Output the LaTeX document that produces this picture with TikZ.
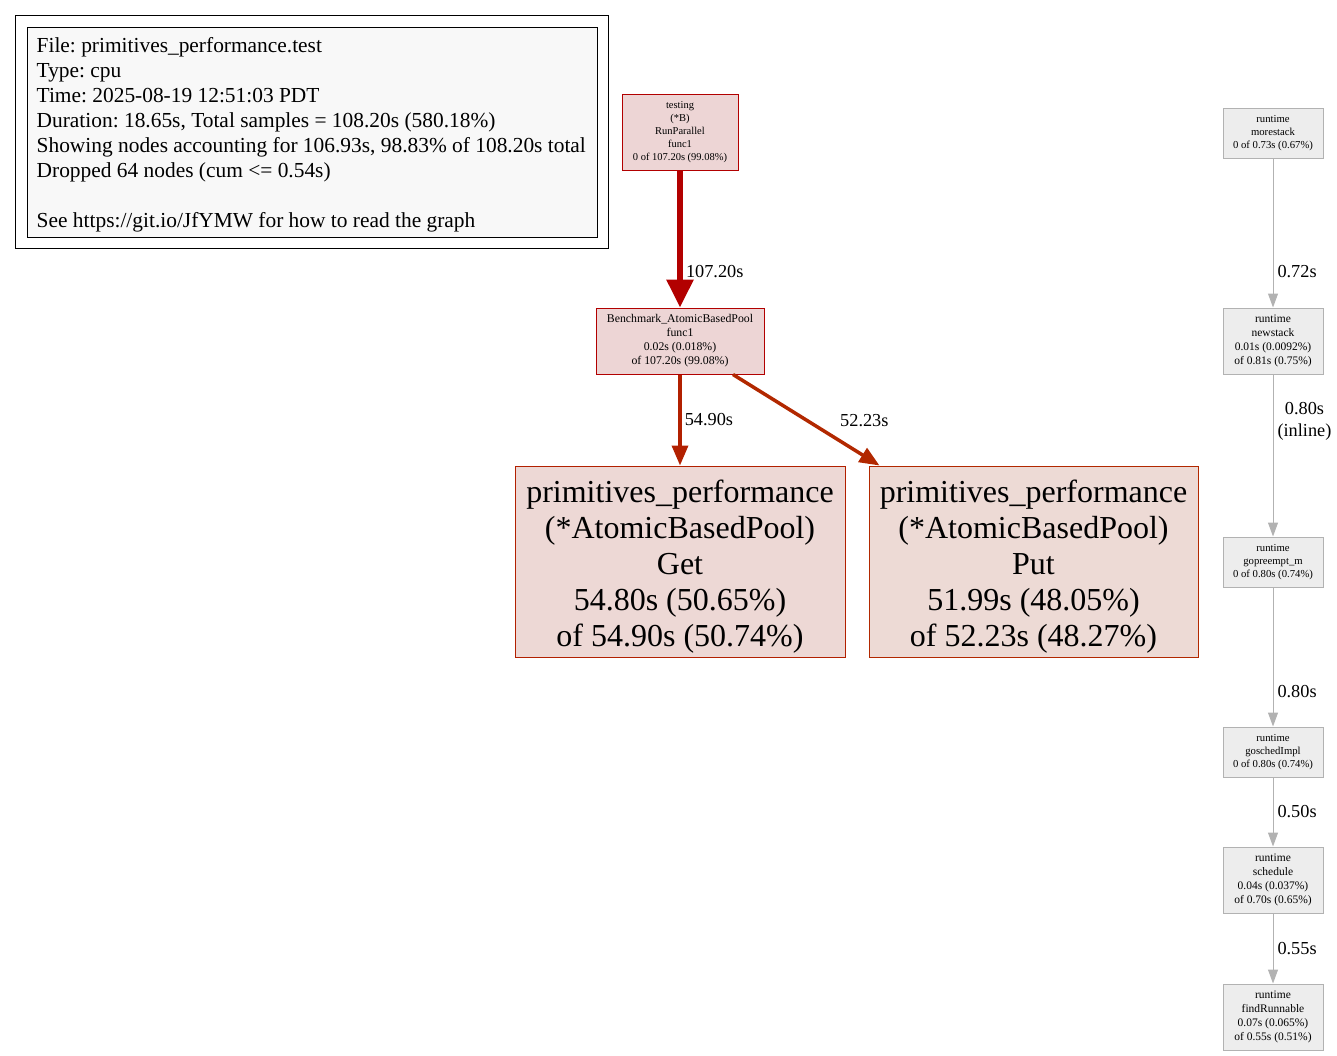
\documentclass[tikz,border=0pt]{standalone}
\usepackage{fontspec}
\setmainfont{Liberation Serif}
\usetikzlibrary{arrows.meta}
\definecolor{hotline}{HTML}{B20000}
\definecolor{hotfill}{HTML}{EDD5D5}
\definecolor{getline}{HTML}{B22000}
\definecolor{getfill}{HTML}{EDD8D5}
\definecolor{putline}{HTML}{B22800}
\definecolor{putfill}{HTML}{EDDAD5}
\definecolor{coldline}{HTML}{B2B2B2}
\definecolor{coldfill}{HTML}{EDEDED}
\definecolor{legendfill}{HTML}{F8F8F8}
\frenchspacing

\begin{document}
\begin{tikzpicture}[x=1pt,y=-1pt,
  fn/.style={draw,rectangle,align=center,inner sep=0pt,line width=1pt},
  small/.style={fn,font=\fontsize{10.5}{13}\selectfont},
  mid/.style={fn,font=\fontsize{11.5}{14}\selectfont},
  big/.style={fn,font=\fontsize{32}{36}\selectfont},
  cold/.style={draw=coldline,fill=coldfill,minimum width=100pt},
  lbl/.style={font=\fontsize{18.3}{22}\selectfont,anchor=west,inner sep=0pt},
  coldedge/.style={draw=coldline,line width=1pt,-{Triangle[length=14pt,width=10pt]}}]
\useasboundingbox (0,0) rectangle (1337,1055);

% legend
\node [draw,fill=legendfill,line width=1pt,minimum width=570pt,minimum height=210pt] (legend) at (312,132) {};
\node [anchor=north west,align=left,inner sep=0pt,font=\fontsize{21.4}{25}\selectfont\frenchspacing] (legendtext)
  at ([shift={(10pt,-11pt)}]legend.north west)
  {File: primitives\_performance.test\\
   Type: cpu\\
   Time: 2025-08-19 12:51:03 PDT\\
   Duration: 18.65s, Total samples = 108.20s (580.18\%)\\
   Showing nodes accounting for 106.93s, 98.83\% of 108.20s total\\
   Dropped 64 nodes (cum <= 0.54s)\\
   \mbox{}\\
   See https://git.io/JfYMW for how to read the graph};
\draw [line width=1pt] ([shift={(-11pt,11pt)}]legend.north west) rectangle ([shift={(11pt,-11pt)}]legend.south east);

% hot path
\node [small,draw=hotline,fill=hotfill,minimum width=116pt,minimum height=76pt] (run) at (680,132)
  {testing\\(*B)\\RunParallel\\func1\\0 of 107.20s (99.08\%)};
\node [mid,draw=hotline,fill=hotfill,minimum width=168pt,minimum height=66pt,
  font=\fontsize{11.8}{14}\selectfont] (bench) at (680,341)
  {Benchmark\_AtomicBasedPool\\func1\\0.02s (0.018\%)\\of 107.20s (99.08\%)};
\node [big,draw=getline,fill=getfill,minimum width=330pt,minimum height=191pt] (get) at (680,561.5)
  {\rule{0pt}{33pt}primitives\_performance\\(*AtomicBasedPool)\\Get\\54.80s (50.65\%)\\of 54.90s (50.74\%)};
\node [big,draw=putline,fill=putfill,minimum width=329pt,minimum height=191pt] (put) at (1033.5,561.5)
  {\rule{0pt}{33pt}primitives\_performance\\(*AtomicBasedPool)\\Put\\51.99s (48.05\%)\\of 52.23s (48.27\%)};

% runtime chain
\node [small,cold,minimum height=50pt,font=\fontsize{10.7}{13}\selectfont] (more) at (1273,133)
  {runtime\\morestack\\0 of 0.73s (0.67\%)};
\node [mid,cold,minimum height=66pt] (new) at (1273,341)
  {runtime\\newstack\\0.01s (0.0092\%)\\of 0.81s (0.75\%)};
\node [small,cold,minimum height=50pt,font=\fontsize{10.7}{13}\selectfont] (preempt) at (1273,562)
  {runtime\\gopreempt\_m\\0 of 0.80s (0.74\%)};
\node [small,cold,minimum height=50pt,font=\fontsize{10.7}{13}\selectfont] (gosched) at (1273,752)
  {runtime\\goschedImpl\\0 of 0.80s (0.74\%)};
\node [mid,cold,minimum height=66pt] (sched) at (1273,880)
  {runtime\\schedule\\0.04s (0.037\%)\\of 0.70s (0.65\%)};
\node [mid,cold,minimum height=66pt] (find) at (1273,1017)
  {runtime\\findRunnable\\0.07s (0.065\%)\\of 0.55s (0.51\%)};

% edges
\draw [draw=hotline,line width=6pt,-{Triangle[length=28pt,width=26pt]}] (run) -- (bench)
  node [lbl,pos=0.74,xshift=3pt] (e1) {107.20s};
\draw [draw=getline,line width=3.5pt,-{Triangle[length=20pt,width=16pt]}] (bench) -- (get)
  node [lbl,pos=0.5,xshift=3pt] (e2) {54.90s};
\draw [draw=putline,line width=3.5pt,-{Triangle[length=20pt,width=16pt]}] ([xshift=53pt]bench.south) -- ([xshift=11pt]put.north west);
\node [lbl] (e3) at (840,421) {52.23s};
\draw [coldedge] (more) -- (new) node [lbl,pos=0.76,xshift=4pt] (e4) {0.72s};
\draw [coldedge] (new) -- (preempt) node [lbl,pos=0.29,xshift=4pt,align=center] (e5) {0.80s\\(inline)};
\draw [coldedge] (preempt) -- (gosched) node [lbl,pos=0.75,xshift=4pt] (e6) {0.80s};
\draw [coldedge] (gosched) -- (sched) node [lbl,pos=0.5,xshift=4pt] (e7) {0.50s};
\draw [coldedge] (sched) -- (find) node [lbl,pos=0.5,xshift=4pt] (e8) {0.55s};
\end{tikzpicture}
\end{document}
